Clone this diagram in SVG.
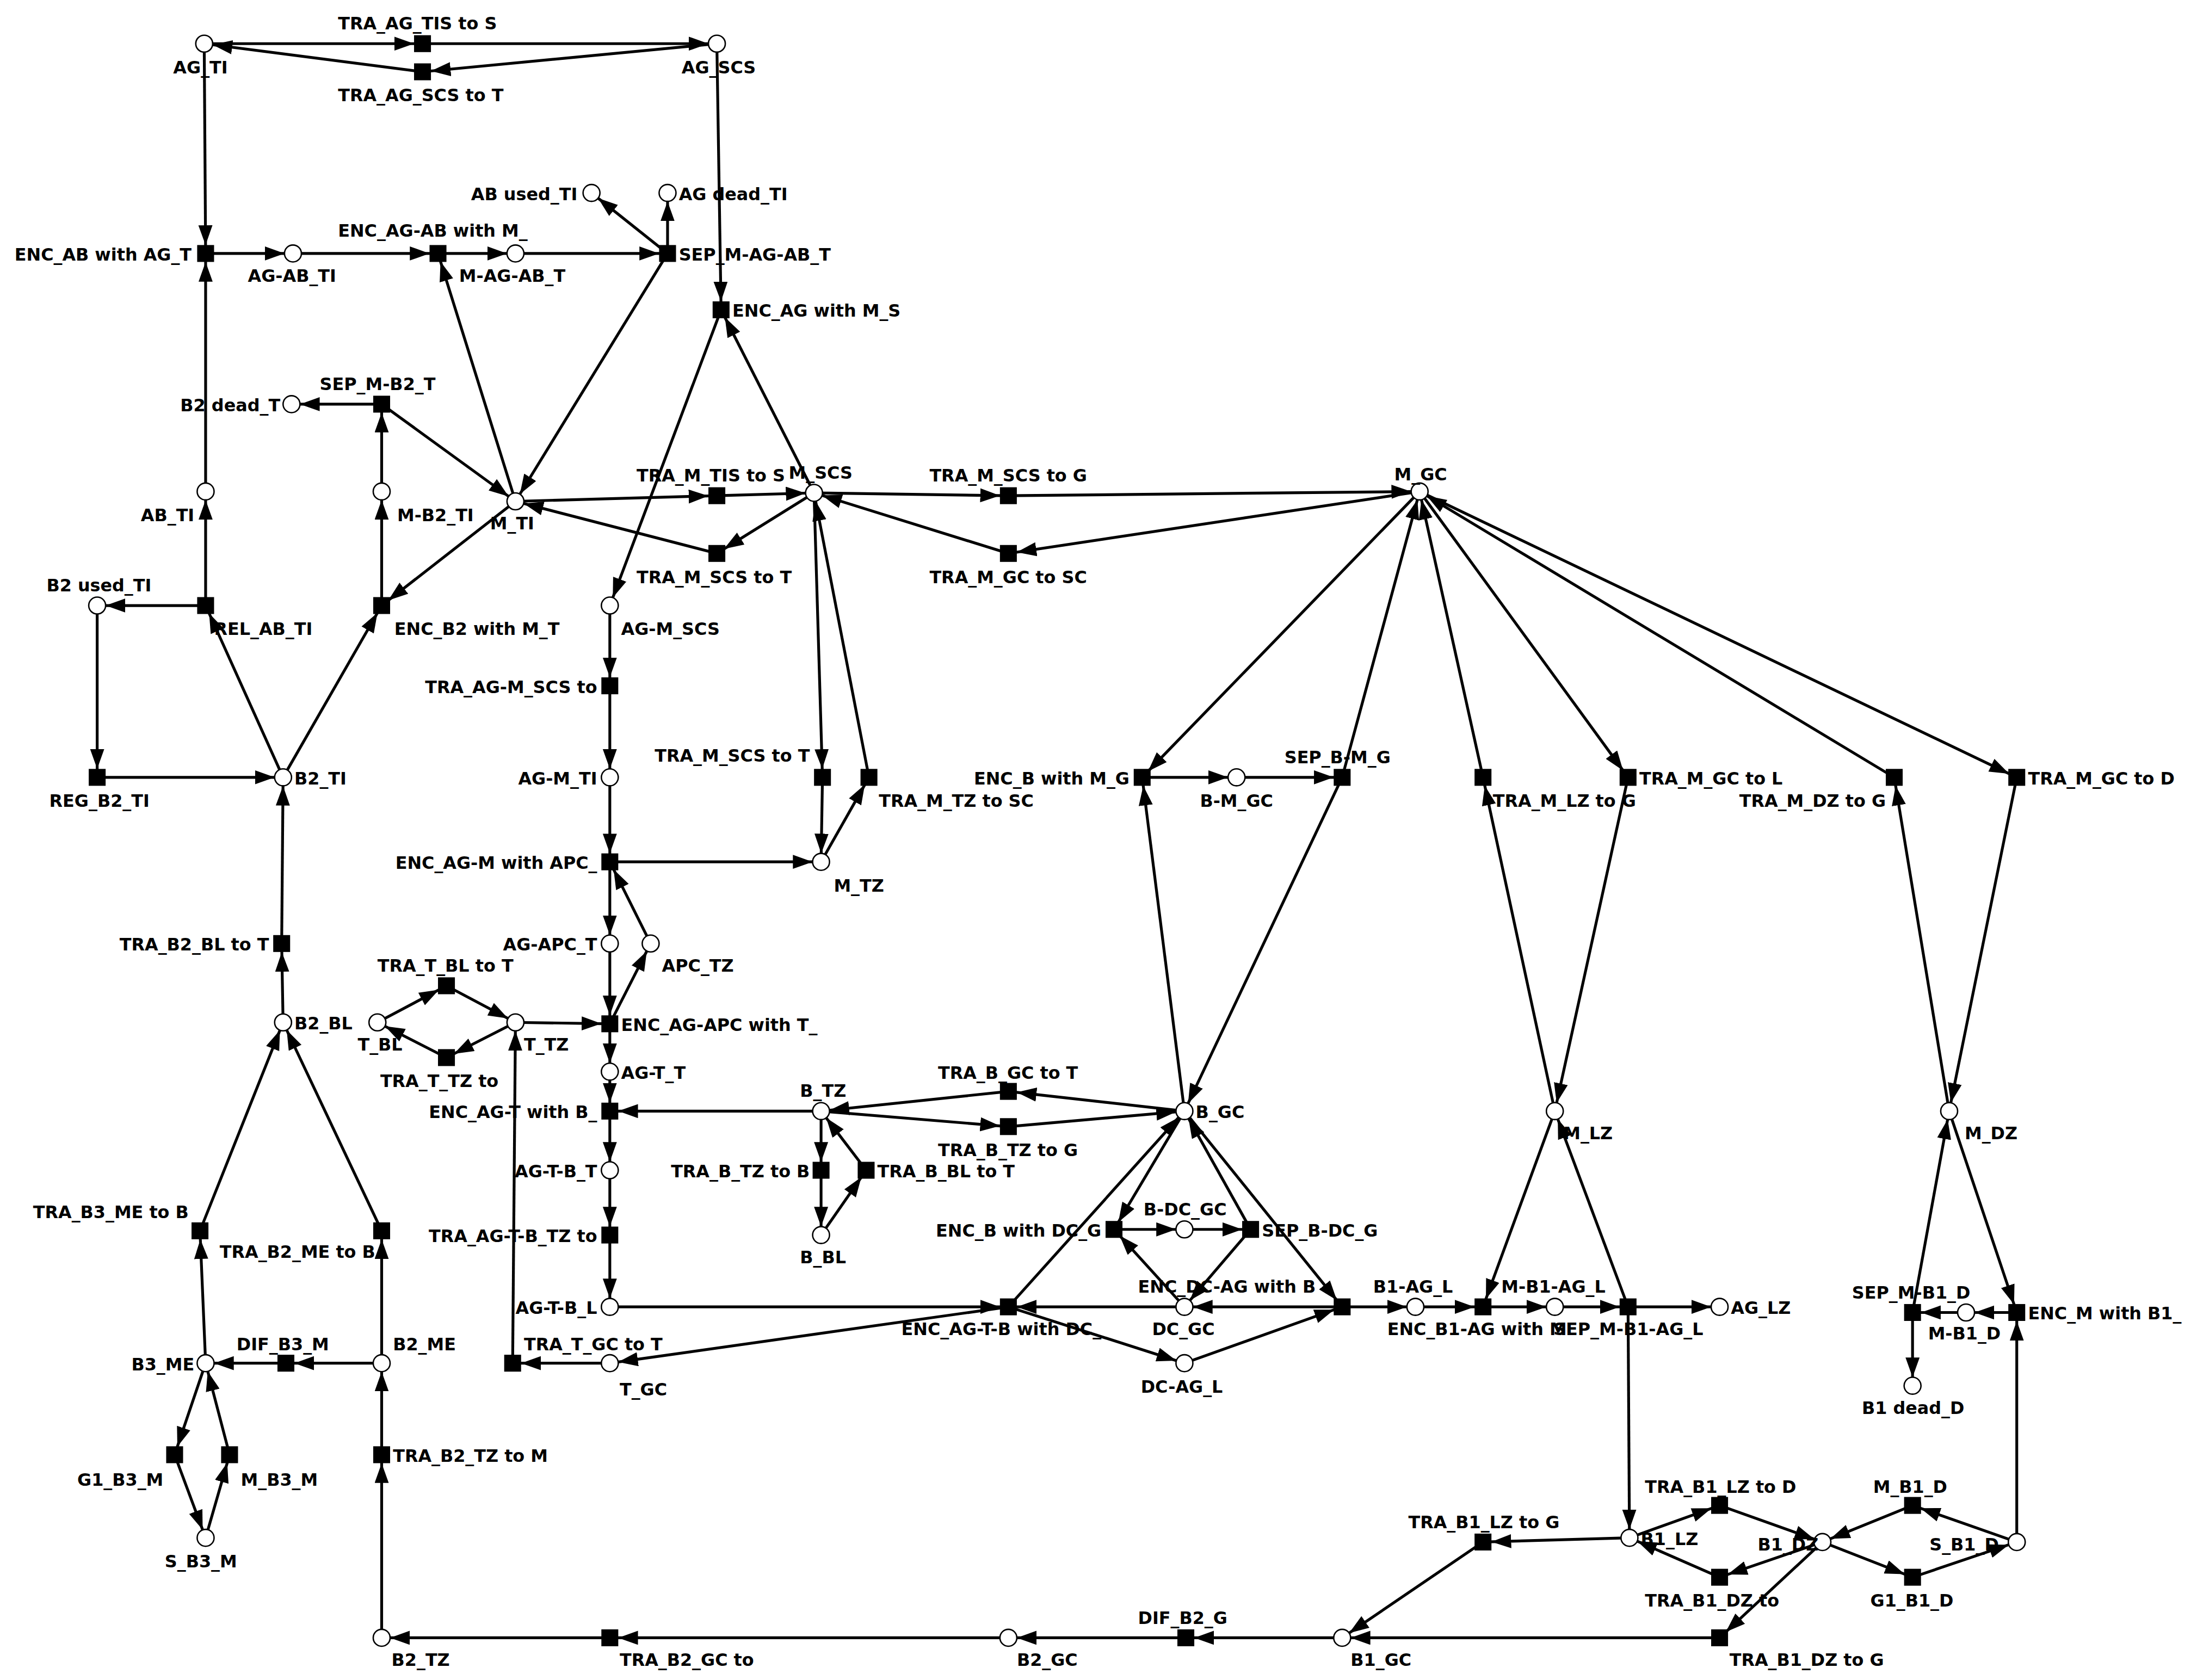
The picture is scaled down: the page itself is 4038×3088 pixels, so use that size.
<svg xmlns="http://www.w3.org/2000/svg" width="4038" height="3088" viewBox="0 0 4038 3088">
<style>
.e{stroke:#000;stroke-width:2;fill:none;marker-end:url(#a)}
.p{fill:#fff;stroke:#000;stroke-width:1}
.t{fill:#000}
text{font-family:"DejaVu Sans",sans-serif;font-weight:bold;font-size:12.3px;fill:#000}
.r{text-anchor:end}
</style>
<defs><marker id="a" markerUnits="userSpaceOnUse" markerWidth="22" markerHeight="12" refX="20" refY="5" orient="auto"><path d="M0,0 L14,5 L0,10 z" fill="#000"/></marker></defs>
<rect width="4038" height="3088" fill="#fff"/>
<g transform="scale(2.5885)">
<g id="connectors">
<line class="e" x1="145" y1="31" x2="300" y2="31"/>
<line class="e" x1="300" y1="31" x2="509" y2="31"/>
<line class="e" x1="509" y1="31" x2="300" y2="51"/>
<line class="e" x1="300" y1="51" x2="145" y2="31"/>
<line class="e" x1="145" y1="31" x2="146" y2="180"/>
<line class="e" x1="146" y1="349" x2="146" y2="180"/>
<line class="e" x1="146" y1="180" x2="208" y2="180"/>
<line class="e" x1="208" y1="180" x2="311" y2="180"/>
<line class="e" x1="311" y1="180" x2="366" y2="180"/>
<line class="e" x1="366" y1="180" x2="474" y2="180"/>
<line class="e" x1="474" y1="180" x2="420" y2="137"/>
<line class="e" x1="474" y1="180" x2="474" y2="137"/>
<line class="e" x1="474" y1="180" x2="366" y2="356"/>
<line class="e" x1="366" y1="356" x2="311" y2="180"/>
<line class="e" x1="509" y1="31" x2="512" y2="220"/>
<line class="e" x1="578" y1="350" x2="512" y2="220"/>
<line class="e" x1="512" y1="220" x2="433" y2="430"/>
<line class="e" x1="271" y1="287" x2="207" y2="287"/>
<line class="e" x1="271" y1="349" x2="271" y2="287"/>
<line class="e" x1="271" y1="287" x2="366" y2="356"/>
<line class="e" x1="366" y1="356" x2="509" y2="352"/>
<line class="e" x1="509" y1="352" x2="578" y2="350"/>
<line class="e" x1="578" y1="350" x2="509" y2="393"/>
<line class="e" x1="509" y1="393" x2="366" y2="356"/>
<line class="e" x1="578" y1="350" x2="716" y2="352"/>
<line class="e" x1="716" y1="352" x2="1008" y2="349"/>
<line class="e" x1="1008" y1="349" x2="716" y2="393"/>
<line class="e" x1="716" y1="393" x2="578" y2="350"/>
<line class="e" x1="271" y1="430" x2="271" y2="349"/>
<line class="e" x1="366" y1="356" x2="271" y2="430"/>
<line class="e" x1="146" y1="430" x2="146" y2="349"/>
<line class="e" x1="146" y1="430" x2="69" y2="430"/>
<line class="e" x1="201" y1="552" x2="146" y2="430"/>
<line class="e" x1="201" y1="552" x2="271" y2="430"/>
<line class="e" x1="69" y1="430" x2="69" y2="552"/>
<line class="e" x1="69" y1="552" x2="201" y2="552"/>
<line class="e" x1="200" y1="670" x2="201" y2="552"/>
<line class="e" x1="201" y1="726" x2="200" y2="670"/>
<line class="e" x1="433" y1="430" x2="433" y2="487"/>
<line class="e" x1="433" y1="487" x2="433" y2="552"/>
<line class="e" x1="433" y1="552" x2="433" y2="612"/>
<line class="e" x1="433" y1="612" x2="583" y2="612"/>
<line class="e" x1="578" y1="350" x2="584" y2="552"/>
<line class="e" x1="584" y1="552" x2="583" y2="612"/>
<line class="e" x1="583" y1="612" x2="617" y2="552"/>
<line class="e" x1="617" y1="552" x2="578" y2="350"/>
<line class="e" x1="433" y1="612" x2="433" y2="670"/>
<line class="e" x1="462" y1="670" x2="433" y2="612"/>
<line class="e" x1="433" y1="727" x2="462" y2="670"/>
<line class="e" x1="433" y1="670" x2="433" y2="727"/>
<line class="e" x1="366" y1="726" x2="433" y2="727"/>
<line class="e" x1="433" y1="727" x2="433" y2="761"/>
<line class="e" x1="433" y1="761" x2="433" y2="789"/>
<line class="e" x1="583" y1="789" x2="433" y2="789"/>
<line class="e" x1="433" y1="789" x2="433" y2="831"/>
<line class="e" x1="433" y1="831" x2="433" y2="877"/>
<line class="e" x1="433" y1="877" x2="433" y2="928"/>
<line class="e" x1="433" y1="928" x2="716" y2="928"/>
<line class="e" x1="268" y1="726" x2="317" y2="700"/>
<line class="e" x1="317" y1="700" x2="366" y2="726"/>
<line class="e" x1="366" y1="726" x2="317" y2="751"/>
<line class="e" x1="317" y1="751" x2="268" y2="726"/>
<line class="e" x1="433" y1="968" x2="364" y2="968"/>
<line class="e" x1="364" y1="968" x2="366" y2="726"/>
<line class="e" x1="716" y1="928" x2="433" y2="968"/>
<line class="e" x1="716" y1="928" x2="841" y2="789"/>
<line class="e" x1="716" y1="928" x2="841" y2="968"/>
<line class="e" x1="841" y1="928" x2="716" y2="928"/>
<line class="e" x1="953" y1="928" x2="841" y2="928"/>
<line class="e" x1="841" y1="968" x2="953" y2="928"/>
<line class="e" x1="953" y1="928" x2="1005" y2="928"/>
<line class="e" x1="841" y1="789" x2="953" y2="928"/>
<line class="e" x1="841" y1="789" x2="791" y2="873"/>
<line class="e" x1="841" y1="928" x2="791" y2="873"/>
<line class="e" x1="791" y1="873" x2="841" y2="873"/>
<line class="e" x1="841" y1="873" x2="888" y2="873"/>
<line class="e" x1="888" y1="873" x2="841" y2="789"/>
<line class="e" x1="888" y1="873" x2="841" y2="928"/>
<line class="e" x1="583" y1="789" x2="716" y2="800"/>
<line class="e" x1="716" y1="800" x2="841" y2="789"/>
<line class="e" x1="841" y1="789" x2="716" y2="775"/>
<line class="e" x1="716" y1="775" x2="583" y2="789"/>
<line class="e" x1="583" y1="789" x2="583" y2="831"/>
<line class="e" x1="583" y1="831" x2="583" y2="877"/>
<line class="e" x1="583" y1="877" x2="615" y2="831"/>
<line class="e" x1="615" y1="831" x2="583" y2="789"/>
<line class="e" x1="841" y1="789" x2="811" y2="552"/>
<line class="e" x1="1008" y1="349" x2="811" y2="552"/>
<line class="e" x1="811" y1="552" x2="878" y2="552"/>
<line class="e" x1="878" y1="552" x2="953" y2="552"/>
<line class="e" x1="953" y1="552" x2="841" y2="789"/>
<line class="e" x1="953" y1="552" x2="1008" y2="349"/>
<line class="e" x1="1008" y1="349" x2="1156" y2="552"/>
<line class="e" x1="1156" y1="552" x2="1104" y2="789"/>
<line class="e" x1="1104" y1="789" x2="1053" y2="552"/>
<line class="e" x1="1053" y1="552" x2="1008" y2="349"/>
<line class="e" x1="1008" y1="349" x2="1432" y2="552"/>
<line class="e" x1="1432" y1="552" x2="1384" y2="789"/>
<line class="e" x1="1384" y1="789" x2="1345" y2="552"/>
<line class="e" x1="1345" y1="552" x2="1008" y2="349"/>
<line class="e" x1="1104" y1="789" x2="1053" y2="928"/>
<line class="e" x1="1005" y1="928" x2="1053" y2="928"/>
<line class="e" x1="1053" y1="928" x2="1104" y2="928"/>
<line class="e" x1="1104" y1="928" x2="1156" y2="928"/>
<line class="e" x1="1156" y1="928" x2="1221" y2="928"/>
<line class="e" x1="1156" y1="928" x2="1104" y2="789"/>
<line class="e" x1="1156" y1="928" x2="1157" y2="1092"/>
<line class="e" x1="1384" y1="789" x2="1432" y2="932"/>
<line class="e" x1="1432" y1="1095" x2="1432" y2="932"/>
<line class="e" x1="1432" y1="932" x2="1396" y2="932"/>
<line class="e" x1="1396" y1="932" x2="1358" y2="932"/>
<line class="e" x1="1358" y1="932" x2="1384" y2="789"/>
<line class="e" x1="1358" y1="932" x2="1358" y2="984"/>
<line class="e" x1="1157" y1="1092" x2="1221" y2="1069"/>
<line class="e" x1="1221" y1="1069" x2="1294" y2="1095"/>
<line class="e" x1="1294" y1="1095" x2="1221" y2="1120"/>
<line class="e" x1="1221" y1="1120" x2="1157" y2="1092"/>
<line class="e" x1="1294" y1="1095" x2="1358" y2="1120"/>
<line class="e" x1="1358" y1="1120" x2="1432" y2="1095"/>
<line class="e" x1="1432" y1="1095" x2="1358" y2="1069"/>
<line class="e" x1="1358" y1="1069" x2="1294" y2="1095"/>
<line class="e" x1="1157" y1="1092" x2="1053" y2="1095"/>
<line class="e" x1="1053" y1="1095" x2="953" y2="1163"/>
<line class="e" x1="1294" y1="1095" x2="1221" y2="1163"/>
<line class="e" x1="1221" y1="1163" x2="953" y2="1163"/>
<line class="e" x1="953" y1="1163" x2="842" y2="1163"/>
<line class="e" x1="842" y1="1163" x2="716" y2="1163"/>
<line class="e" x1="716" y1="1163" x2="433" y2="1163"/>
<line class="e" x1="433" y1="1163" x2="271" y2="1163"/>
<line class="e" x1="271" y1="1163" x2="271" y2="1033"/>
<line class="e" x1="271" y1="1033" x2="271" y2="968"/>
<line class="e" x1="271" y1="968" x2="203" y2="968"/>
<line class="e" x1="203" y1="968" x2="146" y2="968"/>
<line class="e" x1="271" y1="968" x2="271" y2="874"/>
<line class="e" x1="271" y1="874" x2="201" y2="726"/>
<line class="e" x1="146" y1="968" x2="142" y2="874"/>
<line class="e" x1="142" y1="874" x2="201" y2="726"/>
<line class="e" x1="146" y1="968" x2="124" y2="1033"/>
<line class="e" x1="124" y1="1033" x2="146" y2="1092"/>
<line class="e" x1="146" y1="1092" x2="163" y2="1033"/>
<line class="e" x1="163" y1="1033" x2="146" y2="968"/>
</g>
<g id="places">
<g id="AG_TI"><circle class="p" cx="145" cy="31" r="6"/><text x="123" y="52">AG_TI</text></g>
<g id="AG_SCS"><circle class="p" cx="509" cy="31" r="6"/><text x="484" y="52">AG_SCS</text></g>
<g id="AB_used_TI"><circle class="p" cx="420" cy="137" r="6"/><text class="r" x="410" y="142">AB used_TI</text></g>
<g id="AG_dead_TI"><circle class="p" cx="474" cy="137" r="6"/><text x="482" y="142">AG dead_TI</text></g>
<g id="AG-AB_TI"><circle class="p" cx="208" cy="180" r="6"/><text x="176" y="200">AG-AB_TI</text></g>
<g id="M-AG-AB_TI"><circle class="p" cx="366" cy="180" r="6"/><text x="326" y="200">M-AG-AB_T</text></g>
<g id="B2_dead_TI"><circle class="p" cx="207" cy="287" r="6"/><text class="r" x="199" y="292">B2 dead_T</text></g>
<g id="M-B2_TI"><circle class="p" cx="271" cy="349" r="6"/><text x="282" y="370">M-B2_TI</text></g>
<g id="AB_TI"><circle class="p" cx="146" cy="349" r="6"/><text class="r" x="138" y="370">AB_TI</text></g>
<g id="M_TI"><circle class="p" cx="366" cy="356" r="6"/><text x="348" y="376">M_TI</text></g>
<g id="M_SCS"><circle class="p" cx="578" cy="350" r="6"/><text x="560" y="340">M_SCS</text></g>
<g id="M_GC"><circle class="p" cx="1008" cy="349" r="6"/><text x="990" y="341">M_GC</text></g>
<g id="B2_used_TI"><circle class="p" cx="69" cy="430" r="6"/><text x="33" y="420">B2 used_TI</text></g>
<g id="AG-M_SCS"><circle class="p" cx="433" cy="430" r="6"/><text x="441" y="451">AG-M_SCS</text></g>
<g id="B2_TI"><circle class="p" cx="201" cy="552" r="6"/><text x="209" y="557">B2_TI</text></g>
<g id="AG-M_TI"><circle class="p" cx="433" cy="552" r="6"/><text class="r" x="424" y="557">AG-M_TI</text></g>
<g id="M_TZ"><circle class="p" cx="583" cy="612" r="6"/><text x="592" y="633">M_TZ</text></g>
<g id="AG-APC_TI"><circle class="p" cx="433" cy="670" r="6"/><text class="r" x="424" y="675">AG-APC_T</text></g>
<g id="APC_TZ"><circle class="p" cx="462" cy="670" r="6"/><text x="470" y="690">APC_TZ</text></g>
<g id="B2_BL"><circle class="p" cx="201" cy="726" r="6"/><text x="209" y="731">B2_BL</text></g>
<g id="T_BL"><circle class="p" cx="268" cy="726" r="6"/><text x="254" y="746">T_BL</text></g>
<g id="T_TZ"><circle class="p" cx="366" cy="726" r="6"/><text x="372" y="746">T_TZ</text></g>
<g id="AG-T_TZ"><circle class="p" cx="433" cy="761" r="6"/><text x="441" y="766">AG-T_T</text></g>
<g id="B_TZ"><circle class="p" cx="583" cy="789" r="6"/><text x="568" y="779">B_TZ</text></g>
<g id="B_GC"><circle class="p" cx="841" cy="789" r="6"/><text x="849" y="794">B_GC</text></g>
<g id="M_LZ"><circle class="p" cx="1104" cy="789" r="6"/><text x="1110" y="809">M_LZ</text></g>
<g id="M_DZ"><circle class="p" cx="1384" cy="789" r="6"/><text x="1395" y="809">M_DZ</text></g>
<g id="B-M_GC"><circle class="p" cx="878" cy="552" r="6"/><text x="852" y="573">B-M_GC</text></g>
<g id="AG-T-B_TZ"><circle class="p" cx="433" cy="831" r="6"/><text class="r" x="424" y="836">AG-T-B_T</text></g>
<g id="B_BL"><circle class="p" cx="583" cy="877" r="6"/><text x="568" y="897">B_BL</text></g>
<g id="B-DC_GC"><circle class="p" cx="841" cy="873" r="6"/><text x="812" y="863">B-DC_GC</text></g>
<g id="AG-T-B_LZ"><circle class="p" cx="433" cy="928" r="6"/><text class="r" x="424" y="933">AG-T-B_L</text></g>
<g id="DC_GC"><circle class="p" cx="841" cy="928" r="6"/><text x="818" y="948">DC_GC</text></g>
<g id="B1-AG_LZ"><circle class="p" cx="1005" cy="928" r="6"/><text x="975" y="918">B1-AG_L</text></g>
<g id="M-B1-AG_LZ"><circle class="p" cx="1104" cy="928" r="6"/><text x="1066" y="918">M-B1-AG_L</text></g>
<g id="AG_LZ"><circle class="p" cx="1221" cy="928" r="6"/><text x="1229" y="933">AG_LZ</text></g>
<g id="M-B1_DZ"><circle class="p" cx="1396" cy="932" r="6"/><text x="1369" y="951">M-B1_D</text></g>
<g id="B1_dead_DZ"><circle class="p" cx="1358" cy="984" r="6"/><text x="1322" y="1004">B1 dead_D</text></g>
<g id="T_GC"><circle class="p" cx="433" cy="968" r="6"/><text x="440" y="991">T_GC</text></g>
<g id="DC-AG_LZ"><circle class="p" cx="841" cy="968" r="6"/><text x="810" y="989">DC-AG_L</text></g>
<g id="B3_ME"><circle class="p" cx="146" cy="968" r="6"/><text class="r" x="138" y="973">B3_ME</text></g>
<g id="B2_ME"><circle class="p" cx="271" cy="968" r="6"/><text x="279" y="959">B2_ME</text></g>
<g id="S_B3_ME"><circle class="p" cx="146" cy="1092" r="6"/><text x="117" y="1113">S_B3_M</text></g>
<g id="B1_LZ"><circle class="p" cx="1157" cy="1092" r="6"/><text x="1165" y="1097">B1_LZ</text></g>
<g id="B1_DZ"><circle class="p" cx="1294" cy="1095" r="6"/><text x="1248" y="1101">B1_DZ</text></g>
<g id="S_B1_DZ"><circle class="p" cx="1432" cy="1095" r="6"/><text x="1370" y="1101">S_B1_D</text></g>
<g id="B2_TZ"><circle class="p" cx="271" cy="1163" r="6"/><text x="278" y="1183">B2_TZ</text></g>
<g id="B2_GC"><circle class="p" cx="716" cy="1163" r="6"/><text x="722" y="1183">B2_GC</text></g>
<g id="B1_GC"><circle class="p" cx="953" cy="1163" r="6"/><text x="959" y="1183">B1_GC</text></g>
</g>
<g id="transitions">
<g id="TRA_AG_TIS_to_SCS"><rect class="t" x="294" y="25" width="12" height="12"/><text x="240" y="21">TRA_AG_TIS to S</text></g>
<g id="TRA_AG_SCS_to_TIS"><rect class="t" x="294" y="45" width="12" height="12"/><text x="240" y="72">TRA_AG_SCS to T</text></g>
<g id="ENC_AB"><rect class="t" x="140" y="174" width="12" height="12"/><text class="r" x="136" y="185">ENC_AB with AG_T</text></g>
<g id="ENC_AG-AB"><rect class="t" x="305" y="174" width="12" height="12"/><text x="240" y="168">ENC_AG-AB with M_</text></g>
<g id="SEP_M-AG-AB"><rect class="t" x="468" y="174" width="12" height="12"/><text x="482" y="185">SEP_M-AG-AB_T</text></g>
<g id="ENC_AG_M_SCS"><rect class="t" x="506" y="214" width="12" height="12"/><text x="520" y="225">ENC_AG with M_S</text></g>
<g id="SEP_M-B2"><rect class="t" x="265" y="281" width="12" height="12"/><text x="227" y="277">SEP_M-B2_T</text></g>
<g id="TRA_M_TIS_SCS"><rect class="t" x="503" y="346" width="12" height="12"/><text x="452" y="342">TRA_M_TIS to S</text></g>
<g id="TRA_M_SCS_GC"><rect class="t" x="710" y="346" width="12" height="12"/><text x="660" y="342">TRA_M_SCS to G</text></g>
<g id="TRA_M_SCS_TIS"><rect class="t" x="503" y="387" width="12" height="12"/><text x="452" y="414">TRA_M_SCS to T</text></g>
<g id="TRA_M_GC_SCS"><rect class="t" x="710" y="387" width="12" height="12"/><text x="660" y="414">TRA_M_GC to SC</text></g>
<g id="REL_AB_TI"><rect class="t" x="140" y="424" width="12" height="12"/><text x="152" y="451">REL_AB_TI</text></g>
<g id="ENC_B2"><rect class="t" x="265" y="424" width="12" height="12"/><text x="280" y="451">ENC_B2 with M_T</text></g>
<g id="TRA_AG-M_SCS"><rect class="t" x="427" y="481" width="12" height="12"/><text class="r" x="424" y="492">TRA_AG-M_SCS to</text></g>
<g id="REG_B2_TI"><rect class="t" x="63" y="546" width="12" height="12"/><text x="35" y="573">REG_B2_TI</text></g>
<g id="TRA_M_SCS_TZ"><rect class="t" x="578" y="546" width="12" height="12"/><text class="r" x="575" y="541">TRA_M_SCS to T</text></g>
<g id="TRA_M_TZ_SCS"><rect class="t" x="611" y="546" width="12" height="12"/><text x="624" y="573">TRA_M_TZ to SC</text></g>
<g id="ENC_B_M"><rect class="t" x="805" y="546" width="12" height="12"/><text class="r" x="802" y="557">ENC_B with M_G</text></g>
<g id="SEP_B-M"><rect class="t" x="947" y="546" width="12" height="12"/><text x="912" y="542">SEP_B-M_G</text></g>
<g id="TRA_M_LZ_GC"><rect class="t" x="1047" y="546" width="12" height="12"/><text x="1060" y="573">TRA_M_LZ to G</text></g>
<g id="TRA_M_GC_LZ"><rect class="t" x="1150" y="546" width="12" height="12"/><text x="1164" y="557">TRA_M_GC to L</text></g>
<g id="TRA_M_DZ_GC"><rect class="t" x="1339" y="546" width="12" height="12"/><text x="1235" y="573">TRA_M_DZ to G</text></g>
<g id="TRA_M_GC_DZ"><rect class="t" x="1426" y="546" width="12" height="12"/><text x="1440" y="557">TRA_M_GC to D</text></g>
<g id="ENC_AG-M_APC"><rect class="t" x="427" y="606" width="12" height="12"/><text class="r" x="424" y="617">ENC_AG-M with APC_</text></g>
<g id="TRA_B2_BL_TI"><rect class="t" x="194" y="664" width="12" height="12"/><text class="r" x="191" y="675">TRA_B2_BL to T</text></g>
<g id="TRA_T_BL_TZ"><rect class="t" x="311" y="694" width="12" height="12"/><text x="268" y="690">TRA_T_BL to T</text></g>
<g id="ENC_AG-APC"><rect class="t" x="427" y="721" width="12" height="12"/><text x="441" y="732">ENC_AG-APC with T_</text></g>
<g id="TRA_T_TZ_BL"><rect class="t" x="311" y="745" width="12" height="12"/><text x="270" y="772">TRA_T_TZ to</text></g>
<g id="TRA_B_GC_TZ"><rect class="t" x="710" y="769" width="12" height="12"/><text x="666" y="766">TRA_B_GC to T</text></g>
<g id="ENC_AG-T"><rect class="t" x="427" y="783" width="12" height="12"/><text class="r" x="424" y="794">ENC_AG-T with B_</text></g>
<g id="TRA_B_TZ_GC"><rect class="t" x="710" y="794" width="12" height="12"/><text x="666" y="821">TRA_B_TZ to G</text></g>
<g id="TRA_B_TZ_BL"><rect class="t" x="577" y="825" width="12" height="12"/><text class="r" x="575" y="836">TRA_B_TZ to B</text></g>
<g id="TRA_B_BL_TZ"><rect class="t" x="609" y="825" width="12" height="12"/><text x="623" y="836">TRA_B_BL to T</text></g>
<g id="TRA_AG-T-B"><rect class="t" x="427" y="871" width="12" height="12"/><text class="r" x="424" y="882">TRA_AG-T-B_TZ to</text></g>
<g id="ENC_B_DC"><rect class="t" x="785" y="867" width="12" height="12"/><text class="r" x="782" y="878">ENC_B with DC_G</text></g>
<g id="SEP_B-DC"><rect class="t" x="882" y="867" width="12" height="12"/><text x="896" y="878">SEP_B-DC_G</text></g>
<g id="TRA_B3_ME"><rect class="t" x="136" y="868" width="12" height="12"/><text class="r" x="134" y="865">TRA_B3_ME to B</text></g>
<g id="TRA_B2_ME"><rect class="t" x="265" y="868" width="12" height="12"/><text x="156" y="893">TRA_B2_ME to B</text></g>
<g id="ENC_AG-T-B"><rect class="t" x="710" y="922" width="12" height="12"/><text x="640" y="948">ENC_AG-T-B with DC_</text></g>
<g id="ENC_DC-AG"><rect class="t" x="947" y="922" width="12" height="12"/><text x="808" y="918">ENC_DC-AG with B</text></g>
<g id="ENC_B1-AG"><rect class="t" x="1047" y="922" width="12" height="12"/><text x="985" y="948">ENC_B1-AG with M</text></g>
<g id="SEP_M-B1-AG"><rect class="t" x="1150" y="922" width="12" height="12"/><text x="1103" y="948">SEP_M-B1-AG_L</text></g>
<g id="SEP_M-B1_DZ"><rect class="t" x="1352" y="926" width="12" height="12"/><text x="1315" y="922">SEP_M-B1_D</text></g>
<g id="ENC_M_B1"><rect class="t" x="1426" y="926" width="12" height="12"/><text x="1440" y="937">ENC_M with B1_</text></g>
<g id="TRA_T_GC_TZ"><rect class="t" x="358" y="962" width="12" height="12"/><text x="372" y="959">TRA_T_GC to T</text></g>
<g id="DIF_B3_ME"><rect class="t" x="197" y="962" width="12" height="12"/><text x="168" y="959">DIF_B3_M</text></g>
<g id="G1_B3_ME"><rect class="t" x="118" y="1027" width="12" height="12"/><text class="r" x="116" y="1055">G1_B3_M</text></g>
<g id="M_B3_ME"><rect class="t" x="157" y="1027" width="12" height="12"/><text x="171" y="1055">M_B3_M</text></g>
<g id="TRA_B2_TZ_ME"><rect class="t" x="265" y="1027" width="12" height="12"/><text x="279" y="1038">TRA_B2_TZ to M</text></g>
<g id="TRA_B1_LZ_DZ"><rect class="t" x="1215" y="1063" width="12" height="12"/><text x="1168" y="1060">TRA_B1_LZ to D</text></g>
<g id="M_B1_DZ"><rect class="t" x="1352" y="1063" width="12" height="12"/><text x="1330" y="1060">M_B1_D</text></g>
<g id="TRA_B1_LZ_GC"><rect class="t" x="1047" y="1089" width="12" height="12"/><text x="1000" y="1085">TRA_B1_LZ to G</text></g>
<g id="TRA_B1_DZ_LZ"><rect class="t" x="1215" y="1114" width="12" height="12"/><text x="1168" y="1141">TRA_B1_DZ to</text></g>
<g id="G1_B1_DZ"><rect class="t" x="1352" y="1114" width="12" height="12"/><text x="1328" y="1141">G1_B1_D</text></g>
<g id="DIF_B2_GC"><rect class="t" x="836" y="1157" width="12" height="12"/><text x="808" y="1153">DIF_B2_G</text></g>
<g id="TRA_B1_DZ_GC"><rect class="t" x="1215" y="1157" width="12" height="12"/><text x="1228" y="1183">TRA_B1_DZ to G</text></g>
<g id="TRA_B2_GC_TZ"><rect class="t" x="427" y="1157" width="12" height="12"/><text x="440" y="1183">TRA_B2_GC to</text></g>
</g>
</g>
</svg>
